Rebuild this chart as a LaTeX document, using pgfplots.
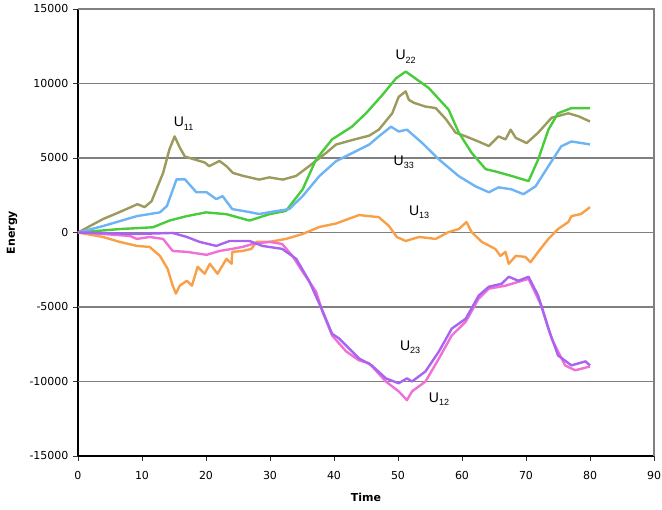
\documentclass[border=0pt]{standalone}
\usepackage{pgfplots}
\pgfplotsset{compat=1.18}
\usepackage{fontspec}
\setmainfont{DejaVu Sans}[BoldFont={DejaVu Sans Bold}]
\newfontfamily\lab{Liberation Sans}
\newfontfamily\boldlab{DejaVu Sans Bold}
\definecolor{cU11}{RGB}{156,154,92}
\definecolor{cU22}{RGB}{72,204,60}
\definecolor{cU33}{RGB}{108,180,244}
\definecolor{cU13}{RGB}{248,160,72}
\definecolor{cU12}{RGB}{240,112,214}
\definecolor{cU23}{RGB}{168,100,240}
\definecolor{gridc}{RGB}{128,128,128}
\newcommand{\U}[1]{{\lab\fontsize{14}{16}\selectfont U\raisebox{-0.45ex}{\fontsize{9}{10}\selectfont #1}}}
\begin{document}
\begin{tikzpicture}
\begin{axis}[
  name=ax,
  scale only axis, width=576pt, height=447pt,
  xmin=0, xmax=90, ymin=-15000, ymax=15000,
  xtick={0,10,...,90}, ytick={-15000,-10000,...,15000},
  scaled y ticks=false, scaled x ticks=false,
  axis lines=left, axis line style={-, black, line width=1.2pt},
  tick align=outside, major tick length=5pt,
  tick style={black!80, line width=0.8pt},
  /pgf/number format/set thousands separator={},
  /pgf/number format/assume math mode=true,
  ticklabel style={font=\fontsize{11}{13}\selectfont},
  xticklabel style={yshift=-7pt},
  yticklabel style={xshift=-1pt},
  xlabel={\boldlab Time}, ylabel={\boldlab Energy},
  label style={font=\fontsize{11}{13}\selectfont},
  xlabel style={at={(axis description cs:0.5,-0.0935)}, anchor=center},
  ylabel style={at={(axis description cs:-0.1145,0.5)}, anchor=center},
  every axis plot/.append style={line width=2.4pt, line join=round, no markers},
  clip=false,
]
% grid lines
\draw[gridc, line width=1.2pt] (axis cs:0,10000) -- (axis cs:90,10000);
\draw[gridc, line width=1.2pt] (axis cs:0,5000) -- (axis cs:90,5000);
\draw[gridc, line width=1.2pt] (axis cs:0,0) -- (axis cs:90,0);
\draw[gridc, line width=1.2pt] (axis cs:0,-5000) -- (axis cs:90,-5000);
\draw[gridc, line width=1.2pt] (axis cs:0,-10000) -- (axis cs:90,-10000);
\draw[gridc, line width=1.2pt] (axis cs:0,15000) -- (axis cs:90,15000) -- (axis cs:90,-15000);
% U11
\addplot[cU11] coordinates {(0,0)(3.9,900)(6.5,1370)(9.3,1900)(10.4,1700)(11.5,2100)(13.3,4000)(14.3,5600)(15.1,6450)(15.9,5700)(16.7,5100)(18.2,4900)(19.8,4700)(20.5,4450)(22.1,4800)(23.2,4450)(24.2,4000)(25.8,3800)(28.3,3550)(29.9,3700)(32,3550)(34.1,3800)(36.1,4450)(38.8,5350)(40.3,5900)(42.8,6200)(45.5,6500)(47,6900)(49.1,8000)(50.1,9100)(51.2,9470)(51.7,8900)(52.5,8700)(54.3,8450)(55.9,8350)(57.5,7600)(59,6700)(60.6,6450)(62.6,6100)(64.2,5800)(65.7,6450)(66.8,6250)(67.6,6900)(68.4,6350)(70.1,6000)(71.9,6700)(74,7700)(76.6,8000)(78.2,7800)(80,7450)};
% U22
\addplot[cU22] coordinates {(0,0)(6.5,230)(11.7,350)(14.3,800)(17,1100)(20,1350)(23.2,1230)(26.8,800)(29.9,1230)(32.5,1450)(35.1,2900)(37.2,4900)(39.7,6250)(42.8,7100)(45,8000)(47.5,9200)(49.7,10350)(51.2,10800)(52.2,10500)(54.8,9700)(57.9,8250)(59.5,6700)(61.5,5350)(63.7,4250)(65.2,4100)(67.7,3800)(70.4,3450)(71.9,4900)(73.5,6900)(75,8000)(77.1,8350)(80,8350)};
% U33
\addplot[cU33] coordinates {(0,0)(3.9,430)(9.2,1100)(12.8,1350)(13.9,1780)(15.4,3570)(16.7,3570)(18.5,2700)(20.1,2700)(21.6,2240)(22.6,2440)(24.1,1570)(26.8,1370)(28.3,1240)(31,1440)(33,1570)(35.1,2440)(37.7,3780)(40.3,4780)(43.4,5450)(45.5,5900)(47,6450)(48.9,7100)(50.1,6780)(51.4,6900)(53.7,6040)(56.4,4900)(59.5,3780)(62.1,3100)(64.2,2700)(65.7,3030)(67.7,2900)(69.6,2570)(71.5,3100)(73.5,4450)(75.5,5780)(77.1,6110)(80,5910)};
% U13
\addplot[cU13] coordinates {(0,0)(3.9,-300)(6.5,-630)(9.2,-900)(11.2,-970)(12.8,-1570)(14,-2440)(14.8,-3570)(15.3,-4100)(15.9,-3570)(17,-3240)(17.8,-3570)(18.7,-2300)(19.8,-2770)(20.6,-2100)(21.8,-2770)(23.2,-1770)(24,-2100)(24.1,-1300)(25.7,-1240)(27.1,-1100)(27.9,-630)(29.9,-630)(32.5,-430)(35.1,-100)(37.7,370)(40.3,600)(43.9,1170)(47,1030)(48.6,430)(49.8,-300)(51.2,-570)(53.3,-300)(55.9,-430)(57.9,30)(59.5,230)(60.7,700)(61.5,30)(63.1,-630)(65.2,-1100)(66,-1570)(66.8,-1300)(67.3,-2100)(68.4,-1570)(69.9,-1640)(70.7,-2000)(71.9,-1300)(73.5,-430)(75,230)(76.6,700)(77.1,1100)(78.6,1240)(80,1700)};
% U12
\addplot[cU12] coordinates {(0,0)(3.9,-100)(8.1,-230)(9.2,-430)(11.2,-300)(13.3,-430)(14.8,-1240)(17,-1300)(20.1,-1500)(22.1,-1240)(24.1,-1100)(25.7,-970)(27.3,-770)(29.9,-630)(31.9,-770)(33.5,-1570)(35.1,-2640)(37.2,-3970)(38.2,-5310)(39.7,-6910)(41.9,-7980)(43.9,-8580)(45.5,-8780)(48.1,-10000)(50.1,-10660)(51.4,-11250)(52.2,-10660)(54.3,-10000)(56.4,-8450)(58.4,-6910)(60.6,-5980)(62.6,-4440)(64.2,-3770)(66.8,-3570)(68.8,-3310)(70.4,-3110)(72.4,-4910)(74,-7110)(76.1,-8920)(77.7,-9250)(80,-8990)};
% U23
\addplot[cU23] coordinates {(0,0)(9.2,-100)(14.8,-30)(17,-300)(19,-630)(21.6,-900)(23.7,-570)(26.8,-570)(28.8,-900)(31.9,-1100)(34.1,-1770)(36.1,-3240)(38.2,-5250)(39.7,-6800)(40.8,-7110)(43.9,-8450)(45.9,-8920)(48.1,-9790)(50.1,-10120)(51.4,-9790)(52.2,-10000)(54.3,-9320)(56.4,-7980)(58.4,-6450)(60.6,-5780)(62.6,-4240)(64.2,-3640)(66.2,-3440)(67.3,-2970)(68.8,-3240)(70.4,-2970)(71.9,-4240)(73.5,-6450)(75,-8250)(77.1,-8920)(79.3,-8650)(80,-8920)};
% labels
\node at (axis cs:16.5,7300) {\U{11}};
\node at (axis cs:51.2,11800) {\U{22}};
\node at (axis cs:50.9,4700) {\U{33}};
\node at (axis cs:53.3,1350) {\U{13}};
\node at (axis cs:51.9,-7700) {\U{23}};
\node at (axis cs:56.4,-11200) {\U{12}};
\end{axis}
\pgfresetboundingbox
\path[use as bounding box] ([shift={(-78pt,-54pt)}]ax.south west) rectangle ([shift={(8pt,9pt)}]ax.north east);
\end{tikzpicture}
\end{document}
